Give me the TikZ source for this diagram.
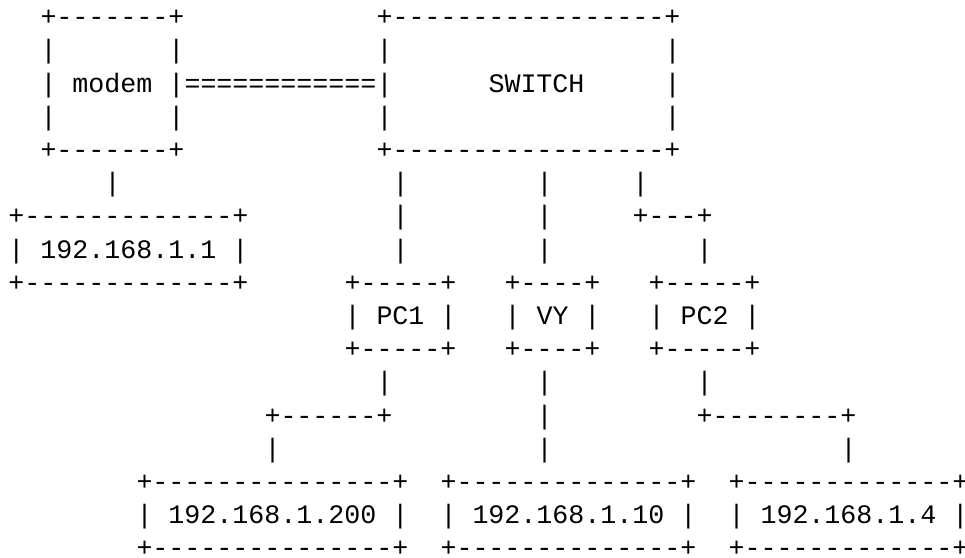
\documentclass[tikz,border=0pt]{standalone}
\usepackage{fontspec}
\setmonofont{Liberation Mono}
\newcommand\topst{\rule{0pt}{23.24pt}}
\begin{document}
\begin{tikzpicture}[x=16pt,y=-33.2pt,
  asc/.style={inner sep=0pt,outer sep=0pt,anchor=base west,text=black,
    font=\ttfamily\fontsize{26.662pt}{33.2pt}\selectfont},
  blk/.style={asc,anchor=north west,align=left}]
\fill[white] (0,0) rectangle (60.3125,16.7771);
\useasboundingbox (0,0) rectangle (60.3125,16.7771);
\clip (0,0) rectangle (60.3125,16.7771);
\begin{scope}[shift={(0.53125,0.77108)}]
% boxes
\node[blk] (modem) at (2,-0.7) {\topst+-------+\\|~~~~~~~|\\| modem |\\|~~~~~~~|\\+-------+};
\node[blk] (switch) at (23,-0.7) {\topst+-----------------+\\|~~~~~~~~~~~~~~~~~|\\|~~~~~~SWITCH~~~~~|\\|~~~~~~~~~~~~~~~~~|\\+-----------------+};
\node[blk] (gw) at (0,5.3) {\topst+-------------+\\| 192.168.1.1 |\\+-------------+};
\node[blk] (pc1) at (21,7.3) {\topst+-----+\\| PC1 |\\+-----+};
\node[blk] (vy) at (31,7.3) {\topst+----+\\| VY |\\+----+};
\node[blk] (pc2) at (40,7.3) {\topst+-----+\\| PC2 |\\+-----+};
\node[blk] (ip200) at (8,13.3) {\topst+---------------+\\| 192.168.1.200 |\\+---------------+};
\node[blk] (ip10) at (27,13.3) {\topst+--------------+\\| 192.168.1.10 |\\+--------------+};
\node[blk] (ip4) at (45,13.3) {\topst+-------------+\\| 192.168.1.4 |\\+-------------+};
% connectors
\node[asc] (modemsw) at (11,2) {============};
\node[asc] (modemgw) at (6,5) {|};
\node[blk] (swpc1) at (24,4.3) {\topst|\\|\\|};
\node[blk] (swvy) at (33,4.3) {\topst|\\|\\|};
\node[blk] (swpc2) at (39,4.3) {\topst|\\+---+\\~~~~|};
\node[blk] (pc1ip) at (16,10.3) {\topst~~~~~~~|\\+------+\\|};
\node[blk] (vyip) at (33,10.3) {\topst|\\|\\|};
\node[blk] (pc2ip) at (43,10.3) {\topst|\\+--------+\\~~~~~~~~~|};
\end{scope}
\end{tikzpicture}
\end{document}
